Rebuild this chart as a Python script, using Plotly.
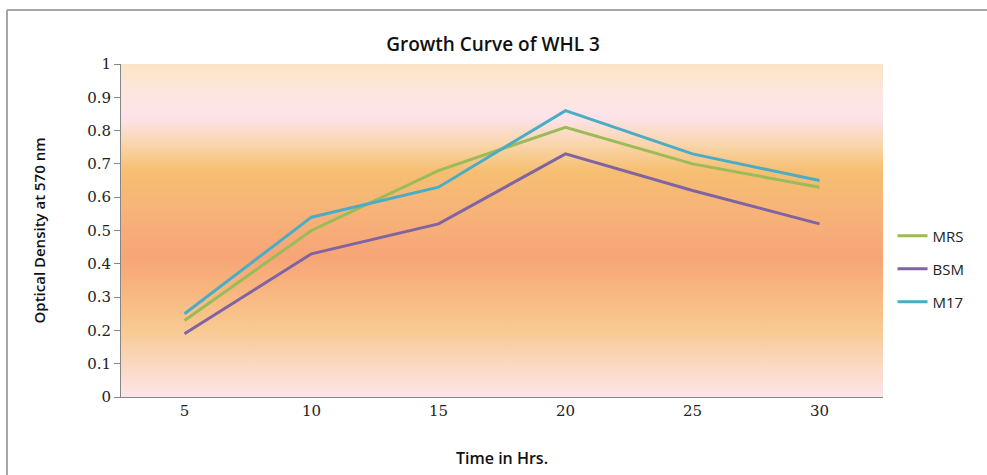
import plotly.graph_objects as go

# Time points (hours) and optical density readings at 570 nm
hours = [5, 10, 15, 20, 25, 30]
mrs = [0.23, 0.50, 0.68, 0.81, 0.70, 0.63]
bsm = [0.19, 0.43, 0.52, 0.73, 0.62, 0.52]
m17 = [0.25, 0.54, 0.63, 0.86, 0.73, 0.65]

series_names = ["MRS", "BSM", "M17"]
series_values = [mrs, bsm, m17]
series_colors = ["#9bbb59", "#8064a2", "#4bacc6"]
y_ticks = [0, 0.1, 0.2, 0.3, 0.4, 0.5, 0.6, 0.7, 0.8, 0.9, 1]

x_lo, x_hi = 2.5, 32.5

SANS = "Open Sans, Lato, sans-serif"
SERIF = "DejaVu Serif, serif"

fig = go.Figure()

# Sunset-style vertical gradient behind the plot area
fig.add_trace(go.Scatter(
    x=[x_lo, x_hi, x_hi, x_lo, x_lo],
    y=[0, 0, 1, 1, 0],
    mode="lines",
    line=dict(width=0),
    fill="toself",
    fillgradient=dict(
        type="vertical",
        start=0,
        stop=1,
        colorscale=[
            [0.00, "#fde4e8"],
            [0.10, "#fad8c0"],
            [0.20, "#f8ca92"],
            [0.32, "#f8b67f"],
            [0.42, "#f7a577"],
            [0.55, "#f7b278"],
            [0.68, "#f6bf72"],
            [0.76, "#f9d6ac"],
            [0.84, "#fde3ea"],
            [0.92, "#fce6dc"],
            [1.00, "#fbe5c6"],
        ],
    ),
    hoverinfo="skip",
    showlegend=False,
))

legend_ys = [(397 - 236) / 333, (397 - 269) / 333, (397 - 302) / 333]
legend_keys = ["legend", "legend2", "legend3"]

for name, vals, color, key in zip(series_names, series_values, series_colors, legend_keys):
    fig.add_trace(go.Scatter(
        x=hours, y=vals, name=name, mode="lines",
        line=dict(color=color, width=3),
        legend=key,
    ))

legend_font = dict(family=SANS, size=15, color="#222222")
legend_cfg = {}
for key, ly in zip(legend_keys, legend_ys):
    legend_cfg[key] = dict(
        x=1.0125, xanchor="left", y=ly, yanchor="middle",
        bgcolor="rgba(0,0,0,0)", font=legend_font,
        itemwidth=30,
    )

fig.update_layout(
    width=987, height=475,
    margin=dict(l=121, r=104, t=64, b=78),
    paper_bgcolor="white",
    plot_bgcolor="rgba(0,0,0,0)",
    title=dict(
        text="Growth Curve of WHL 3",
        x=(493 - 121) / 762, xref="paper", xanchor="center",
        y=1 - 44 / 475, yanchor="middle",
        font=dict(family=SANS, size=19, weight=600, color="#111111"),
    ),
    xaxis=dict(
        range=[x_lo, x_hi],
        tickvals=hours,
        ticktext=[str(h) for h in hours],
        showgrid=False, zeroline=False,
        showline=True, linecolor="#868686", linewidth=1,
        ticks="", ticklen=0,
        tickfont=dict(family=SERIF, size=15, color="#222222"),
        title=dict(text="Time in Hrs.", standoff=33,
                   font=dict(family=SANS, size=16, weight=600, color="#111111")),
    ),
    yaxis=dict(
        range=[0, 1],
        tickvals=y_ticks,
        ticktext=[f"{v:g}" for v in y_ticks],
        showgrid=False, zeroline=False,
        showline=True, linecolor="#868686", linewidth=1,
        ticks="outside", ticklen=6, tickcolor="#868686",
        tickfont=dict(family=SERIF, size=15, color="#222222"),
        title=dict(text="Optical Density at 570 nm", standoff=37,
                   font=dict(family=SANS, size=15, weight=600, color="#111111")),
    ),
    **legend_cfg,
)

# Outer chart frame: top and left edges
frame_line = dict(color="#a6a6a6", width=2)
fig.add_shape(
    type="line", xref="paper", yref="paper",
    x0=(7 - 121) / 762, x1=(1000 - 121) / 762,
    y0=(397 - 10) / 333, y1=(397 - 10) / 333,
    line=frame_line, layer="below",
)
fig.add_shape(
    type="line", xref="paper", yref="paper",
    x0=(7 - 121) / 762, x1=(7 - 121) / 762,
    y0=(397 - 10) / 333, y1=(397 - 490) / 333,
    line=frame_line, layer="below",
)

fig.write_html("out.html")
